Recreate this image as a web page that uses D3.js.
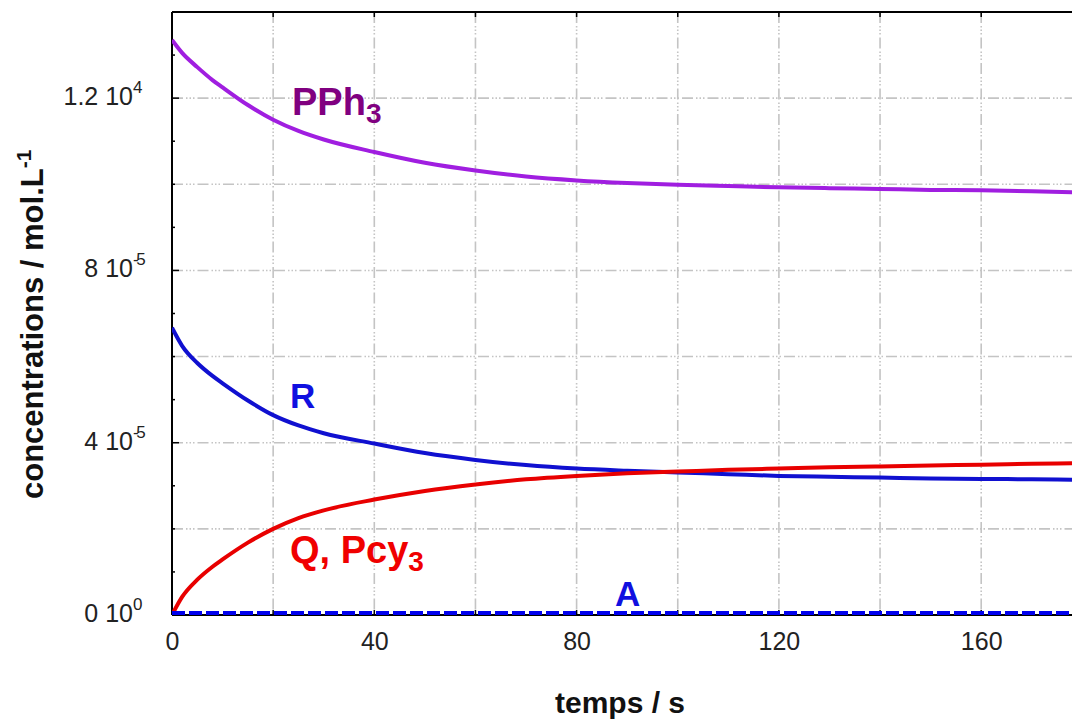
<!DOCTYPE html>
<html>
<head>
<meta charset="utf-8">
<script src="https://cdn.jsdelivr.net/npm/d3@7"></script>
<style>
  html, body { margin: 0; padding: 0; background: #fff; }
  svg { display: block; font-family: "Liberation Sans", Arial, sans-serif; }
</style>
</head>
<body>
<svg id="chart" width="1072" height="720"></svg>
<script>
// time samples (s)
const times = [0, 2, 5, 8, 10, 15, 20, 25, 30, 40, 50, 60, 70, 80, 90, 100, 110, 120, 130, 140, 150, 160, 170, 180];
// concentrations in units of 1e-5 mol/L
const pph3 = [13.35, 13.05, 12.72, 12.42, 12.25, 11.84, 11.50, 11.24, 11.04, 10.75, 10.50, 10.32, 10.18, 10.09, 10.03, 9.99, 9.96, 9.93, 9.91, 9.89, 9.87, 9.86, 9.84, 9.81];
const rConc = [6.67, 6.25, 5.85, 5.55, 5.38, 4.98, 4.64, 4.40, 4.22, 3.98, 3.76, 3.60, 3.48, 3.40, 3.35, 3.31, 3.27, 3.23, 3.21, 3.19, 3.17, 3.16, 3.15, 3.14];
const qConc = [0.00, 0.42, 0.82, 1.12, 1.29, 1.68, 2.00, 2.25, 2.43, 2.68, 2.88, 3.03, 3.15, 3.23, 3.29, 3.33, 3.37, 3.40, 3.43, 3.45, 3.47, 3.49, 3.51, 3.53];
const aConc = [0, 0, 0, 0, 0, 0, 0, 0, 0, 0, 0, 0, 0, 0, 0, 0, 0, 0, 0, 0, 0, 0, 0, 0];

const xTicks = [0, 40, 80, 120, 160];
const xGrid = [20, 40, 60, 80, 100, 120, 140, 160, 180];
const yTicks = [0, 4, 8, 12];
const yTickMant = ["0", "4", "8", "1.2"];
const yTickExp = ["0", "-5", "-5", "4"];
const yGrid = [2, 4, 6, 8, 10, 12];

const svg = d3.select("#chart");
const plotLeft = 172, plotTop = 12, plotBottom = 615, plotRight = 1072;

const x = d3.scaleLinear().domain([0, 40]).range([plotLeft, plotLeft + 202.3]);
const y = d3.scaleLinear().domain([0, 14]).range([plotBottom, plotTop]);
const xMax = x.invert(plotRight);

// dash-dot-dot grid
const grid = svg.append("g").attr("stroke", "#c4c4c4").attr("stroke-width", 1.6)
  .attr("stroke-dasharray", "11,3,1.5,2,1.5,2,1.5,3").attr("fill", "none");
xGrid.filter(v => v < xMax).forEach(v => {
  grid.append("line").attr("x1", x(v)).attr("x2", x(v)).attr("y1", y(14)).attr("y2", y(0));
});
yGrid.forEach(v => {
  grid.append("line").attr("x1", x(0)).attr("x2", plotRight).attr("y1", y(v)).attr("y2", y(v));
});

// axes frame
const frame = svg.append("g").attr("stroke", "#000").attr("stroke-width", 2).attr("fill", "none");
frame.append("line").attr("x1", plotLeft).attr("x2", plotLeft).attr("y1", plotTop).attr("y2", plotBottom);
frame.append("line").attr("x1", plotLeft).attr("x2", plotRight).attr("y1", plotBottom).attr("y2", plotBottom);
frame.append("line").attr("x1", plotLeft).attr("x2", plotRight).attr("y1", plotTop).attr("y2", plotTop);

// bottom tick labels
const bAxis = d3.axisBottom(x).tickValues(xTicks).tickSize(0).tickPadding(17).tickFormat(d3.format("d"));
const gx = svg.append("g").attr("transform", `translate(0,${plotBottom})`).call(bAxis);
gx.select(".domain").remove();
gx.selectAll("text").attr("font-size", 25).attr("fill", "#222").attr("font-family", "Liberation Sans, Arial, sans-serif");

// inward tick marks
const tickG = svg.append("g").attr("stroke", "#000").attr("stroke-width", 1.5);
xGrid.filter(v => v < xMax).forEach(v => {
  tickG.append("line").attr("x1", x(v)).attr("x2", x(v)).attr("y1", plotBottom).attr("y2", plotBottom - 5);
  tickG.append("line").attr("x1", x(v)).attr("x2", x(v)).attr("y1", plotTop).attr("y2", plotTop + 5);
});
d3.range(0, 14.01, 1).forEach(v => {
  const len = (v % 4 === 0) ? 7 : 3;
  tickG.append("line").attr("x1", plotLeft).attr("x2", plotLeft + len).attr("y1", y(v)).attr("y2", y(v));
});

// y tick labels: mantissa "x 10" plus exponent
const yl = svg.append("g").attr("fill", "#222");
yTicks.forEach((v, i) => {
  yl.append("text").attr("x", 133).attr("y", y(v) + 7).attr("text-anchor", "end")
    .attr("font-size", 25).text(yTickMant[i] + " 10");
  yl.append("text").attr("x", 133).attr("y", y(v) - 5).attr("font-size", 17)
    .attr("letter-spacing", yTickExp[i].length > 1 ? -2.5 : 0).text(yTickExp[i]);
});

// curves
const line = d3.line().x((d, i) => x(times[i])).y(d => y(d)).curve(d3.curveMonotoneX);
svg.append("clipPath").attr("id", "plotclip").append("rect")
  .attr("x", plotLeft).attr("y", plotTop).attr("width", plotRight - plotLeft).attr("height", plotBottom - plotTop);
const curves = svg.append("g").attr("clip-path", "url(#plotclip)").attr("fill", "none").attr("stroke-width", 4);
curves.append("path").datum(pph3).attr("d", line).attr("stroke", "#a01ee0");
curves.append("path").datum(rConc).attr("d", line).attr("stroke", "#1010d0");
curves.append("path").datum(qConc).attr("d", line).attr("stroke", "#e80000");
curves.append("path").datum(aConc).attr("d", line).attr("stroke", "#0000ee")
  .attr("stroke-dasharray", "13,4").attr("transform", "translate(0,-2)");

// series labels
const lab = svg.append("g").attr("font-weight", "bold");
const p = lab.append("text").attr("x", 292).attr("y", 115).attr("fill", "#800080").attr("font-size", 38);
p.append("tspan").text("PPh");
p.append("tspan").attr("dy", 8).attr("font-size", 28).text("3");
lab.append("text").attr("x", 290).attr("y", 408).attr("fill", "#1010e0").attr("font-size", 35).text("R");
const q = lab.append("text").attr("x", 290).attr("y", 563).attr("fill", "#f00000").attr("font-size", 38);
q.append("tspan").text("Q, Pcy");
q.append("tspan").attr("dy", 8).attr("font-size", 28).text("3");
lab.append("text").attr("x", 615).attr("y", 606).attr("fill", "#1010e0").attr("font-size", 35).text("A");

// axis titles
svg.append("text").attr("x", 620).attr("y", 713).attr("text-anchor", "middle")
  .attr("font-weight", "bold").attr("font-size", 30).attr("fill", "#111").text("temps / s");
const yt = svg.append("text").attr("transform", "translate(43,499) rotate(-90)")
  .attr("text-anchor", "start").attr("font-weight", "bold").attr("font-size", 31).attr("fill", "#111");
yt.append("tspan").text("concentrations / mol.L");
yt.append("tspan").attr("dy", -12).attr("font-size", 21).text("-1");
</script>
</body>
</html>
